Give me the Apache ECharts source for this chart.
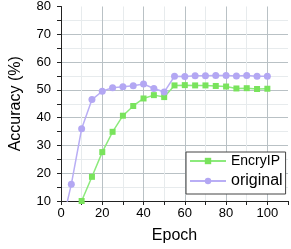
<!DOCTYPE html>
<html>
<head>
<meta charset="utf-8">
<script src="https://cdn.jsdelivr.net/npm/echarts@6/dist/echarts.min.js"></script>
<style>html,body{margin:0;padding:0;background:#fff;}#c{width:291px;height:249px;}</style>
</head>
<body>
<div id="c"></div>
<script>
var originalEpochs = [0,5,10,15,20,25,30,35,40,45,50,55,60,65,70,75,80,85,90,95,100];
var originalAcc = [0,16,36,46.5,49.5,50.8,51.1,51.5,52.1,50.5,49.2,54.9,54.8,55.1,55.1,55.2,55.2,55.0,55.2,54.9,54.9];
var encryEpochs = [10,15,20,25,30,35,40,45,50,55,60,65,70,75,80,85,90,95,100];
var encryAcc = [10,18.7,27.6,34.9,40.7,44.2,46.9,48.1,47.4,51.6,51.7,51.6,51.6,51.4,51.2,50.5,50.6,50.3,50.4];
var xTickLabels = [0,20,40,60,80,100];
var yTickLabels = [10,20,30,40,50,60,70,80];

function pairs(xs, ys){ return xs.map(function(x,i){ return [x, ys[i]]; }); }

var MAJ = '#b9c1c5', MIN = '#e7ebed';
var xSplitColors = [], ySplitColors = [];
for (var v = 0; v <= 110; v += 10) xSplitColors.push(v === 110 ? 'rgba(0,0,0,0)' : (v % 20 === 0 ? MAJ : MIN));
for (var w = 10; w <= 80; w += 5) ySplitColors.push(w === 80 ? 'rgba(0,0,0,0)' : (w % 10 === 0 ? MAJ : MIN));

var font = 'Liberation Sans, Arial, sans-serif';
var chart = echarts.init(document.getElementById('c'), null, {renderer:'canvas'});
chart.setOption({
  animation: false,
  backgroundColor: '#fff',
  grid: {left: 48, right: 1, top: 5, bottom: 45, containLabel: false},
  xAxis: {
    type: 'value', min: 0, max: 110, interval: 10,
    name: 'Epoch', nameLocation: 'middle', nameGap: 27,
    nameTextStyle: {fontSize: 16, color: '#000', fontFamily: font},
    axisLine: {show: true, onZero: false, lineStyle: {color: '#222', width: 1}},
    axisTick: {show: true, length: 4, lineStyle: {color: '#222'}},
    axisLabel: {margin: 6, fontSize: 13, color: '#000', fontFamily: font,
      formatter: function(v){ return xTickLabels.indexOf(v) >= 0 ? String(v) : ''; }},
    splitLine: {show: true, lineStyle: {color: xSplitColors, width: 1}}
  },
  yAxis: {
    type: 'value', min: 10, max: 80, interval: 5,
    name: 'Accuracy (%)', nameLocation: 'middle', nameGap: 37, nameRotate: 90,
    nameTextStyle: {fontSize: 16, color: '#000', fontFamily: font},
    axisLine: {show: true, onZero: false, lineStyle: {color: '#222', width: 1}},
    axisTick: {show: true, length: 4, lineStyle: {color: '#222'}},
    axisLabel: {margin: 10, fontSize: 13, color: '#000', fontFamily: font,
      formatter: function(v){ return yTickLabels.indexOf(v) >= 0 ? String(v) : ''; }},
    splitLine: {show: true, lineStyle: {color: ySplitColors, width: 1}}
  },
  legend: {
    orient: 'vertical', left: 186, top: 152,
    padding: [2, 3, 5, 3], itemGap: 5, itemWidth: 36, itemHeight: 8,
    backgroundColor: '#fff', borderColor: '#444', borderWidth: 1,
    data: ['EncryIP', 'original'],
    formatter: function(n){ return n === 'original' ? '{b|original}' : '{a|EncryIP}'; },
    textStyle: {color: '#000', fontFamily: font,
      rich: {a: {fontSize: 14, lineHeight: 16, fontFamily: font, color:'#000'},
             b: {fontSize: 16, lineHeight: 16, fontFamily: font, color:'#000'}}}
  },
  series: [
    {name: 'EncryIP', type: 'line', data: pairs(encryEpochs, encryAcc), clip: true,
     symbol: 'rect', symbolSize: 6, lineStyle: {color: '#8cea7c', width: 1.5},
     itemStyle: {color: '#79e35c'}},
    {name: 'original', type: 'line', data: pairs(originalEpochs, originalAcc), clip: true,
     symbol: 'circle', symbolSize: 7, lineStyle: {color: '#b9aef5', width: 1.5},
     itemStyle: {color: '#b3a7f3'}}
  ]
});
</script>
</body>
</html>
